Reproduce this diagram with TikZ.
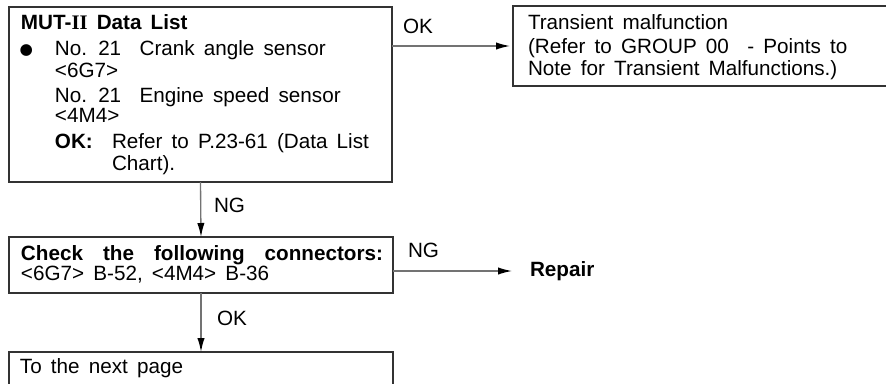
\documentclass[tikz,border=0pt]{standalone}
\usepackage{fontspec}
\setmainfont{Liberation Sans}[WordSpace=1.6]
\newfontfamily\serifII{Liberation Serif}
\newfontfamily\dejavu{DejaVu Sans}
\usetikzlibrary{arrows.meta,fit}
\begin{document}
\begin{tikzpicture}[x=0.75pt,y=-0.75pt,
  box/.style={draw=black!80, line width=0.8pt, inner sep=0pt, outer sep=0pt},
  txt/.style={anchor=base west, inner sep=0pt, outer sep=0pt, font=\fontsize{15.5}{18}\selectfont},
  arr/.style={draw=black!55, line width=1pt, -{Latex[length=10.5pt,width=5.5pt,color=black]}},
]
\useasboundingbox (0,0) rectangle (886,383);
% boxes
\node[box, fit={(9,7)(392,182)}] (box1) {};
\node[box, fit={(513,6)(900,86)}] (box2) {};
\node[box, fit={(9,237)(393,293)}] (box3) {};
\node[box, fit={(9,352)(393,400)}] (box4) {};
% box1 text
\node[txt] (t1) at (21,29) {\bfseries MUT-{\serifII II} Data List};
\node[txt] (t2b) at (19.5,54) {{\fontsize{11.5}{12}\selectfont\dejavu ●}};
\node[txt] (t2) at (55,55) {No. 21\ \ Crank angle sensor};
\node[txt] (t3) at (55,77) {<6G7>};
\node[txt] (t4) at (55,102) {No. 21\ \ Engine speed sensor};
\node[txt] (t5) at (55,122) {<4M4>};
\node[txt] (t6a) at (55,148) {\bfseries OK:};
\node[txt] (t6) at (112,148) {Refer to P.23-61 (Data List};
\node[txt] (t7) at (112,170) {Chart).};
% box2 text
\node[txt] (u1) at (528,29) {Transient malfunction};
\node[txt] (u2) at (528,53) {(Refer to GROUP 00\ \ - Points to};
\node[txt] (u3) at (528,75) {Note for Transient Malfunctions.)};
% box3 text
\node[txt] (c1) at (21,260) {\bfseries\makebox[271.5pt][s]{Check\hfill the\hfill following\hfill connectors:}};
\node[txt] (c2) at (21,280) {<6G7> B-52, <4M4> B-36};
% box4 text
\node[txt] (n1) at (20,373) {To the next page};
% repair
\node[txt, anchor=west] (rep) at (530,271) {\bfseries Repair};
% connectors
\draw[arr, shorten >=2.25pt] (box1.east |- box2.west) -- (box2.west);
\draw[arr] (box1.south) -- (box3.north);
\draw[arr, shorten >=13.5pt] (box3.east |- rep.west) -- (rep.west);
\draw[arr] (box3.south) -- (box4.north);
% labels
\node[txt] (l1) at (403,33) {OK};
\node[txt] (l2) at (214,212) {NG};
\node[txt] (l3) at (408,257) {NG};
\node[txt] (l4) at (217,325) {OK};
\end{tikzpicture}
\end{document}
